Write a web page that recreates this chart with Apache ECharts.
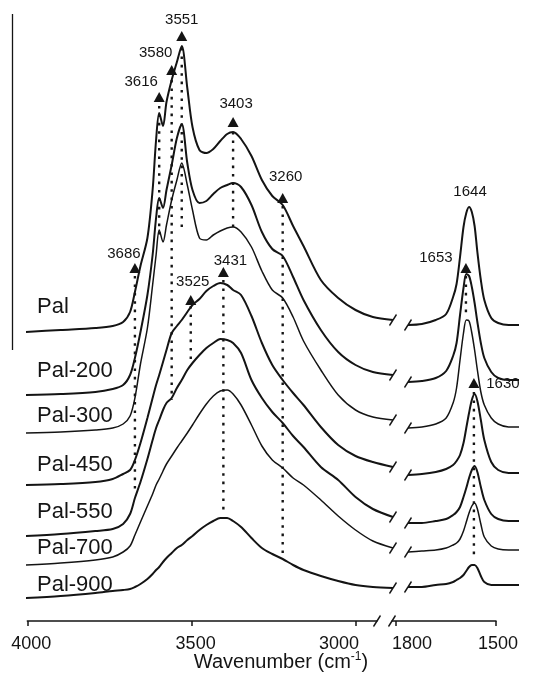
<!DOCTYPE html>
<html>
<head>
<meta charset="utf-8">
<script src="https://cdn.jsdelivr.net/npm/echarts@6/dist/echarts.min.js"></script>
<style>
  html, body { margin: 0; padding: 0; background: #fff; }
  #chart { width: 547px; height: 684px; }
</style>
</head>
<body>
<div id="chart"></div>
<script>
// wavenumbers (cm-1) of the two plotted ranges
const leftWn = [4000,3900,3800,3750,3720,3700,3686,3670,3650,3635,3625,3616,3605,3595,3580,3565,3551,3535,3520,3500,3480,3460,3440,3420,3403,3380,3350,3320,3290,3260,3230,3200,3150,3100,3050,3000,2942];
const rightWn = [1820,1780,1740,1710,1690,1680,1670,1660,1652,1644,1636,1628,1620,1610,1600,1580,1560,1530,1500];

const names = ['Pal','Pal-200','Pal-300','Pal-450','Pal-550','Pal-700','Pal-900'];

// stacked absorbance (arb. units), 4000-2942 cm-1
const palHigh    = [288,290,292,294,298,308,328,354,382,430,480,507,494,518,540,558,574,532,493,470,467,471,479,486,488,481,464,440,424,415,394,374,340,322,310,303,300];
const pal200High = [225,226,228,231,235,245,262,288,325,365,402,422,412,430,455,482,496,457,430,417,419,426,432,435,437,433,415,388,371,364,343,320,290,268,255,248,245];
const pal300High = [187,188,190,192,196,204,222,256,292,335,365,390,378,395,420,440,457,435,410,382,380,385,389,392,393,388,373,349,330,322,303,279,250,225,210,203,200];
const pal450High = [135,136,138,141,146,150,160,177,202,222,235,245,258,270,287,294,300,308,315,321,329,334,337,335,330,325,304,277,255,240,227,215,193,175,164,158,153];
const pal550High = [84,86,89,91,96,106,122,138,161,180,192,200,210,217,222,232,240,250,257,265,272,277,281,280,277,267,240,222,208,197,184,173,153,140,123,111,103];
const pal700High = [55,57,60,63,68,74,85,98,114,126,135,141,149,156,164,172,179,187,195,206,216,224,229,230,226,215,195,174,160,152,142,135,120,104,90,79,72];
const pal900High = [22,24,27,29,30,31,33,36,41,46,50,53,58,62,67,72,75,80,84,90,95,99,102,102,99,93,82,72,66,61,55,50,44,39,35,33,32];

// stacked absorbance, 1820-1500 cm-1
const palLow    = [295,296,300,306,323,336,363,393,407,413,408,394,368,340,320,302,297,295,295];
const pal200Low = [238,239,242,249,264,277,305,332,346,344,333,317,298,277,262,248,242,240,240];
const pal300Low = [192,193,196,202,217,232,260,287,300,299,287,270,250,228,215,202,196,193,193];
const pal450Low = [145,146,148,151,155,159,165,177,192,207,220,226,219,200,180,158,150,147,147];
const pal550Low = [97,97,99,101,105,108,113,123,132,142,150,154,148,133,120,106,101,99,99];
const pal700Low = [68,69,70,72,75,77,81,89,98,107,114,117,111,96,83,74,71,70,70];
const pal900Low = [33,33,35,36,38,40,42,45,49,53,55,55,52,44,38,35,35,35,35];

// marked bands: triangle position and dotted guide
const peakWn  = [3686,3616,3580,3551,3525,3431,3403,3260,1653,1630];
const peakY   = [352,523,550,584,320,348,498,422,352,237];
const dotTop  = [344,514,540,572,314,340,488,414,344,228];
const dotBot  = [128,380,220,392,257,108,392,67,305,62];
// 1644 is labelled without a triangle
const labelOnlyWn = [1644];
const labelOnlyY  = [413];

const axisTicksHigh = [4000,3500,3000];
const axisTicksLow  = [1800,1500];

const highs = [palHigh,pal200High,pal300High,pal450High,pal550High,pal700High,pal900High];
const lows  = [palLow,pal200Low,pal300Low,pal450Low,pal550Low,pal700Low,pal900Low];

const ink = '#141414';
const font = 'Liberation Sans, Arial, sans-serif';
const lineW = [2,2,1.5,2,2,1.5,2];
const peakLabelOffset = [[-11,-14],[-18,-15],[-16,-17],[0,-16],[2,-18],[7,-11],[3,-18],[3,-21],[-30,-10],[29,1]];
const nameLabelY = [307,371,416,465,512,548,585];
// horizontal nudge of tick labels relative to their ticks (as printed)
const tickLabelShift = {4000: 4, 3500: 4, 3000: -17, 1800: 16, 1500: 2};

const chart = echarts.init(document.getElementById('chart'), null, {renderer: 'canvas'});

const series = [];
names.forEach(function (n, i) {
  const common = {
    name: n, type: 'line', symbol: 'none', smooth: 0.3, silent: true,
    lineStyle: {color: ink, width: lineW[i]}
  };
  series.push(Object.assign({}, common, {
    xAxisIndex: 0, yAxisIndex: 0,
    data: leftWn.map(function (w, j) { return [w, highs[i][j]]; })
  }));
  series.push(Object.assign({}, common, {
    xAxisIndex: 1, yAxisIndex: 1,
    data: rightWn.map(function (w, j) { return [w, lows[i][j]]; })
  }));
});

// dotted guides
peakWn.forEach(function (w, i) {
  const g = w > 2500 ? 0 : 1;
  series.push({
    type: 'line', xAxisIndex: g, yAxisIndex: g, symbol: 'none', silent: true,
    data: [[w, dotTop[i]], [w, dotBot[i]]],
    lineStyle: {color: ink, width: 2.4, type: [2.6, 5.8]}
  });
});

// triangles + labels
function peakItems(hi) {
  const out = [];
  peakWn.forEach(function (w, i) {
    if ((w > 2500) !== hi) return;
    out.push({value: [w, peakY[i]], label: {offset: peakLabelOffset[i]}});
  });
  return out;
}
const peakLabel = {show: true, position: 'inside', color: ink, fontSize: 15, fontFamily: font,
  formatter: function (p) { return String(p.value[0]); }};
const solid = {color: ink, opacity: 1};
series.push({type: 'scatter', xAxisIndex: 0, yAxisIndex: 0, symbol: 'triangle', symbolSize: [11, 10],
  itemStyle: solid, label: peakLabel, data: peakItems(true), silent: true});
series.push({type: 'scatter', xAxisIndex: 1, yAxisIndex: 1, symbol: 'triangle', symbolSize: [11, 10],
  itemStyle: solid, label: peakLabel, data: peakItems(false), silent: true});
series.push({type: 'scatter', xAxisIndex: 1, yAxisIndex: 1, symbolSize: 0, itemStyle: solid, label: peakLabel, silent: true,
  data: labelOnlyWn.map(function (w, i) { return {value: [w, labelOnlyY[i]], label: {offset: [1, -15]}}; })});

// break marks on the curves
const slash = 'path://M0,10L6,0';
const slashStyle = {color: 'none', borderColor: ink, borderWidth: 1.5, opacity: 1};
series.push({type: 'scatter', xAxisIndex: 0, yAxisIndex: 0, symbol: slash, symbolSize: [7, 11], itemStyle: slashStyle, silent: true,
  data: highs.map(function (a) { return [leftWn[leftWn.length - 1], a[a.length - 1]]; })});
series.push({type: 'scatter', xAxisIndex: 1, yAxisIndex: 1, symbol: slash, symbolSize: [7, 11], itemStyle: slashStyle, silent: true,
  data: lows.map(function (a) { return [rightWn[0], a[0]]; })});
// break marks on the axis
series.push({type: 'scatter', xAxisIndex: 2, yAxisIndex: 2, symbol: slash, symbolSize: [7, 11], itemStyle: slashStyle, silent: true,
  data: [[2936, 0]]});
series.push({type: 'scatter', xAxisIndex: 3, yAxisIndex: 3, symbol: slash, symbolSize: [7, 11], itemStyle: slashStyle, silent: true,
  data: [[1812, 0]]});

// visible wavenumber axis; labels nudged with rich padding
function visAxis(idx, min, max, ticks) {
  const rich = {};
  ticks.forEach(function (v) {
    const s = tickLabelShift[v] || 0;
    rich['t' + v] = {fontSize: 18, fontFamily: font, color: ink,
      padding: s >= 0 ? [0, 0, 0, 2 * s] : [0, -2 * s, 0, 0]};
  });
  return {
    gridIndex: idx, type: 'value', min: min, max: max, inverse: true,
    axisLine: {lineStyle: {color: ink, width: 1.5}},
    axisTick: {customValues: ticks, length: 5, lineStyle: {color: ink, width: 1.5}},
    axisLabel: {customValues: ticks, margin: 14, rich: rich,
      formatter: function (v) { return '{t' + v + '|' + v + '}'; }},
    splitLine: {show: false}
  };
}

const option = {
  animation: false,
  backgroundColor: '#fff',
  grid: [
    {left: 26, top: 20, width: 367, height: 600},
    {left: 408, top: 20, width: 111, height: 600},
    {left: 27.3, top: 20, width: 349.7, height: 601},
    {left: 392, top: 20, width: 104, height: 601}
  ],
  xAxis: [
    {gridIndex: 0, type: 'value', min: 2942, max: 4000, inverse: true, show: false},
    {gridIndex: 1, type: 'value', min: 1500, max: 1820, inverse: true, show: false},
    visAxis(2, 2936, 4000, axisTicksHigh),
    visAxis(3, 1500, 1812, axisTicksLow)
  ],
  yAxis: [
    {gridIndex: 0, min: 0, max: 600, show: false},
    {gridIndex: 1, min: 0, max: 600, show: false},
    {gridIndex: 2, min: 0, max: 1, show: false},
    {gridIndex: 3, min: 0, max: 1, show: false}
  ],
  graphic: [
    {type: 'line', shape: {x1: 12.5, y1: 14, x2: 12.5, y2: 350}, style: {stroke: ink, lineWidth: 1.3}, silent: true},
    {type: 'text', x: 281, y: 662, style: {
      text: 'Wavenumber (cm{sup|-1})', fill: ink, fontSize: 20, fontFamily: font,
      align: 'center', verticalAlign: 'middle',
      rich: {sup: {fontSize: 12, fontFamily: font, fill: ink, padding: [0, 0, 10, 0]}}
    }}
  ].concat(names.map(function (n, i) {
    return {type: 'text', x: 37, y: nameLabelY[i], style: {
      text: n, fill: ink, fontSize: 22, fontFamily: font, verticalAlign: 'middle'
    }};
  })),
  series: series
};

chart.setOption(option);
</script>
</body>
</html>
